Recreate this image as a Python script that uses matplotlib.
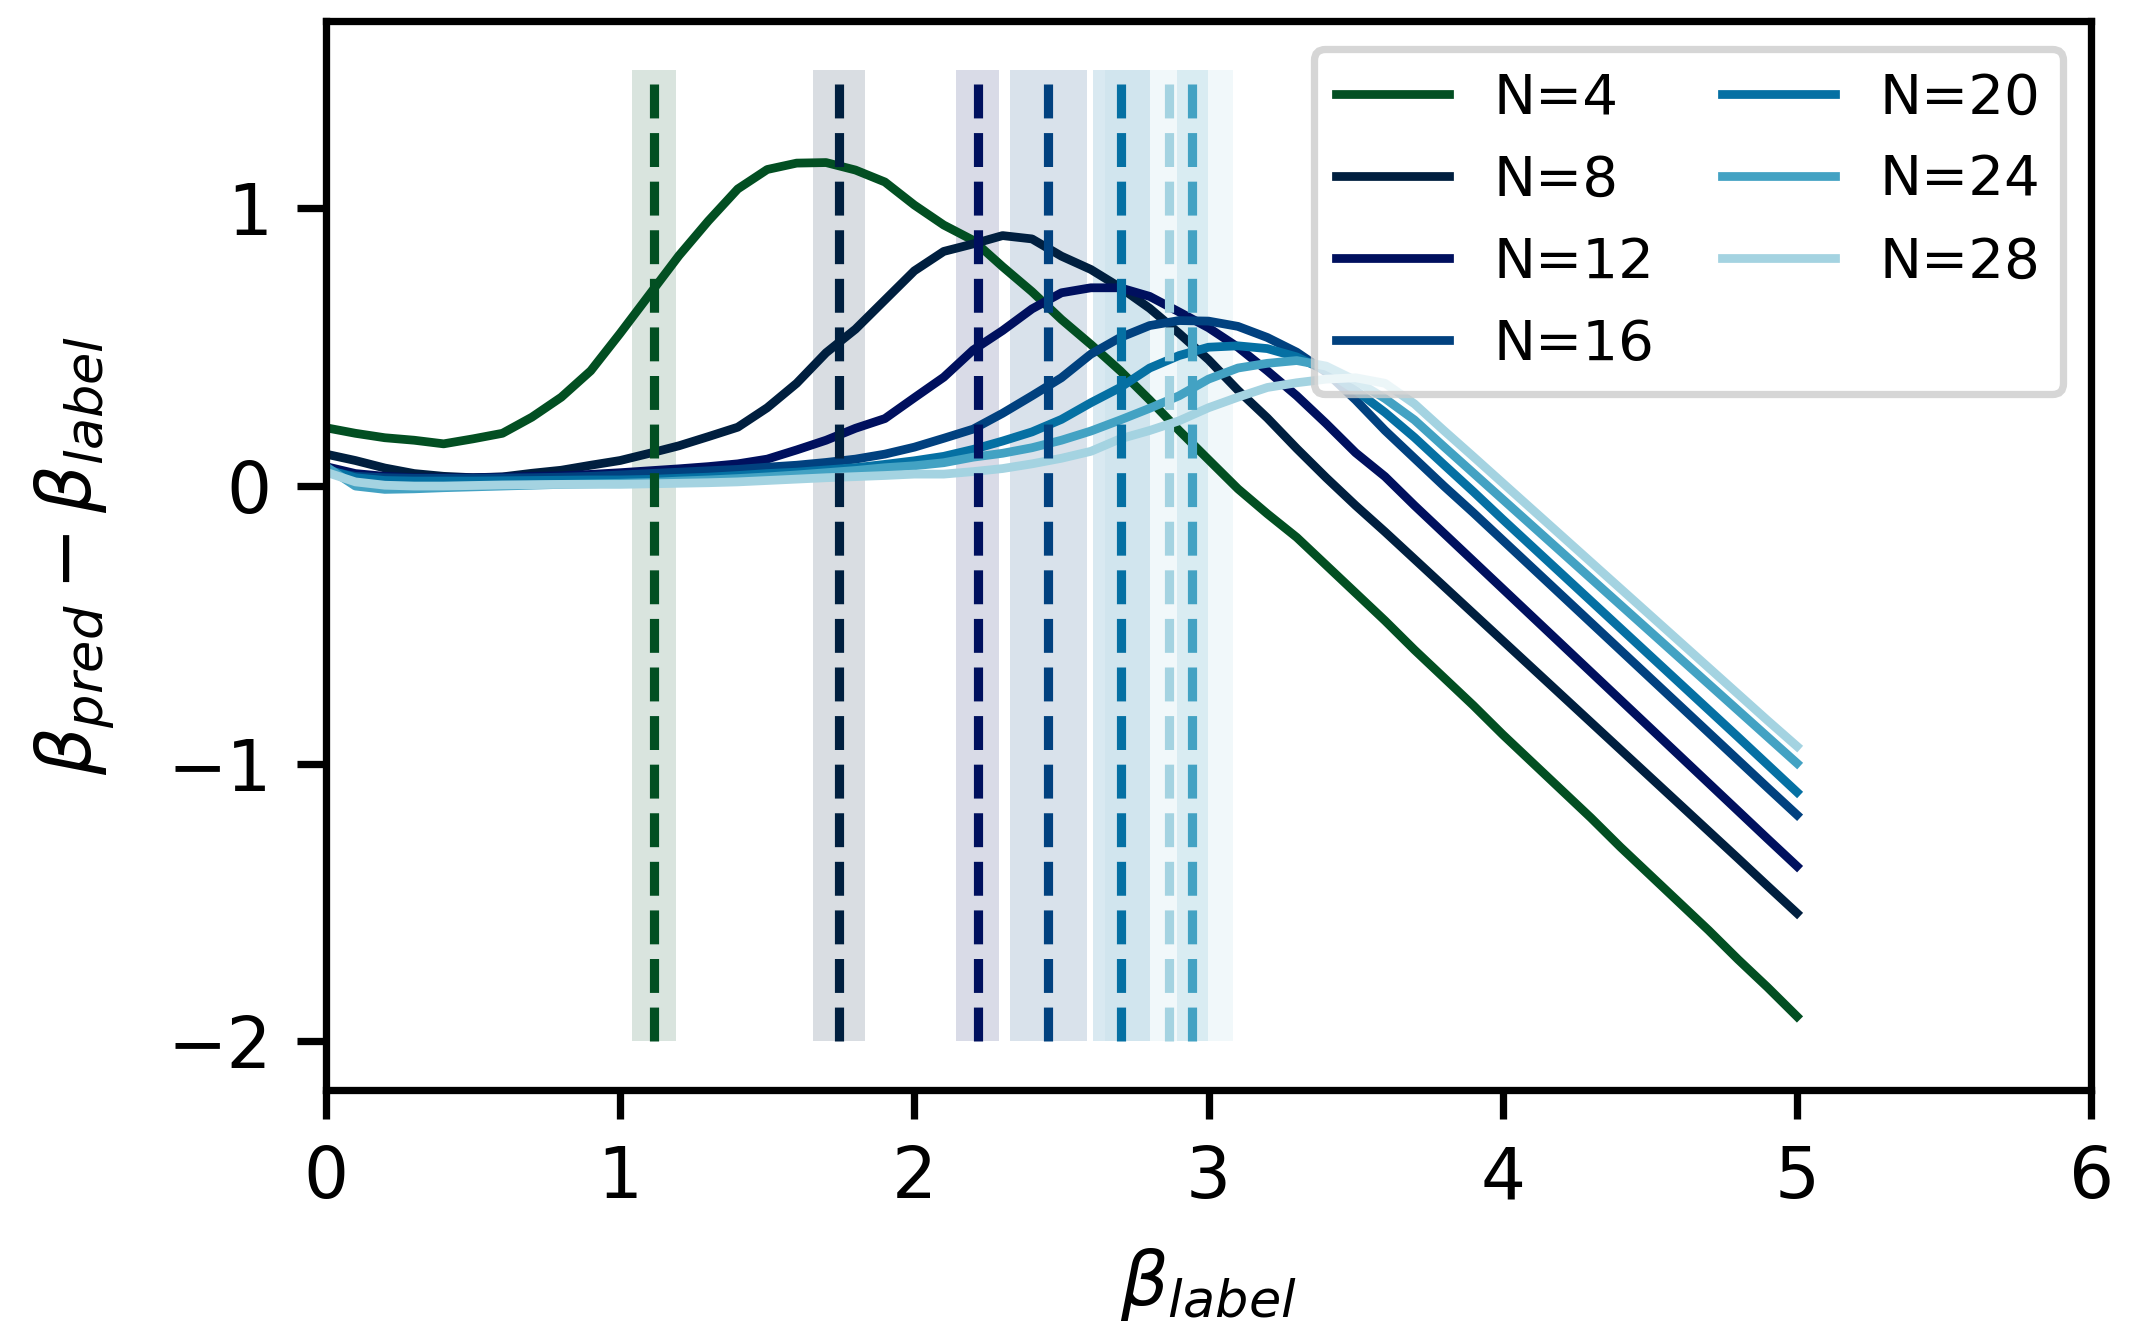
# beta_pred - beta_label against beta_label for several system sizes
import numpy as np
import matplotlib
matplotlib.use("Agg")
import matplotlib.pyplot as plt

# beta_label grid shared by all curves
beta_label = np.linspace(0, 5, 51)

# Curves (beta_pred - beta_label)
diff_n4 = [0.21, 0.19, 0.174, 0.165, 0.152, 0.17, 0.19, 0.248, 0.32, 0.415,
           0.55, 0.69, 0.83, 0.955, 1.07, 1.14, 1.163, 1.165, 1.138, 1.095,
           1.012, 0.94, 0.885, 0.79, 0.70, 0.60, 0.51, 0.415, 0.31, 0.20,
           0.095, -0.01, -0.10, -0.185, -0.285, -0.385, -0.485, -0.59, -0.69, -0.79,
           -0.895, -0.995, -1.095, -1.195, -1.30, -1.40, -1.50, -1.60, -1.705, -1.805,
           -1.91]
diff_n8 = [0.115, 0.092, 0.065, 0.045, 0.035, 0.03, 0.033, 0.046, 0.057, 0.075,
           0.092, 0.118, 0.145, 0.178, 0.212, 0.282, 0.37, 0.48, 0.565, 0.67,
           0.775, 0.845, 0.872, 0.902, 0.89, 0.828, 0.78, 0.715, 0.64, 0.55,
           0.455, 0.345, 0.245, 0.135, 0.03, -0.07, -0.165, -0.263, -0.361, -0.459,
           -0.557, -0.655, -0.753, -0.851, -0.949, -1.047, -1.145, -1.243, -1.341, -1.44,
           -1.538]
diff_n12 = [0.07, 0.045, 0.035, 0.03, 0.03, 0.03, 0.032, 0.035, 0.037, 0.042,
            0.048, 0.055, 0.062, 0.07, 0.08, 0.097, 0.13, 0.165, 0.208, 0.243,
            0.318, 0.392, 0.49, 0.56, 0.638, 0.696, 0.714, 0.714, 0.683, 0.627,
            0.57, 0.50, 0.415, 0.325, 0.225, 0.12, 0.034, -0.07, -0.17, -0.27,
            -0.37, -0.47, -0.57, -0.67, -0.77, -0.87, -0.97, -1.07, -1.17, -1.27,
            -1.369]
diff_n16 = [0.055, 0.035, 0.03, 0.028, 0.028, 0.028, 0.029, 0.03, 0.032, 0.035,
            0.04, 0.045, 0.05, 0.055, 0.06, 0.068, 0.075, 0.085, 0.097, 0.115,
            0.14, 0.172, 0.205, 0.262, 0.325, 0.39, 0.475, 0.535, 0.578, 0.596,
            0.594, 0.575, 0.535, 0.482, 0.41, 0.31, 0.20, 0.10, 0.0, -0.096,
            -0.195, -0.294, -0.393, -0.492, -0.591, -0.69, -0.789, -0.888, -0.987, -1.086,
            -1.184]
diff_n20 = [0.06, 0.03, 0.02, 0.018, 0.018, 0.018, 0.019, 0.02, 0.021, 0.022,
            0.022, 0.024, 0.028, 0.032, 0.038, 0.045, 0.05, 0.058, 0.066, 0.078,
            0.091, 0.107, 0.132, 0.162, 0.195, 0.24, 0.30, 0.355, 0.425, 0.47,
            0.50, 0.505, 0.495, 0.465, 0.415, 0.345, 0.265, 0.175, 0.077, -0.02,
            -0.12, -0.218, -0.316, -0.414, -0.512, -0.61, -0.708, -0.806, -0.904, -1.003,
            -1.102]
diff_n24 = [0.07, 0.0, -0.012, -0.01, -0.006, -0.003, 0.0, 0.003, 0.006, 0.008,
            0.01, 0.013, 0.018, 0.022, 0.027, 0.033, 0.04, 0.048, 0.056, 0.066,
            0.073, 0.084, 0.104, 0.118, 0.138, 0.165, 0.198, 0.238, 0.28, 0.325,
            0.385, 0.425, 0.442, 0.452, 0.432, 0.38, 0.315, 0.238, 0.142, 0.047,
            -0.048, -0.143, -0.238, -0.333, -0.428, -0.523, -0.618, -0.713, -0.808, -0.903,
            -0.998]
diff_n28 = [0.05, 0.015, 0.003, 0.0, 0.0, 0.002, 0.004, 0.005, 0.006, 0.006,
            0.006, 0.008, 0.01, 0.012, 0.015, 0.02, 0.025, 0.03, 0.034, 0.038,
            0.043, 0.043, 0.052, 0.063, 0.08, 0.10, 0.125, 0.17, 0.20, 0.235,
            0.282, 0.32, 0.355, 0.372, 0.385, 0.39, 0.37, 0.296, 0.20, 0.106,
            0.011, -0.084, -0.179, -0.274, -0.369, -0.464, -0.559, -0.654, -0.749, -0.844,
            -0.937]

labels = ["N=4", "N=8", "N=12", "N=16", "N=20", "N=24", "N=28"]
curves = [diff_n4, diff_n8, diff_n12, diff_n16, diff_n20, diff_n24, diff_n28]
colors = ['#024f22', '#001f3f', '#00105e', '#01417f', '#0570a3', '#43a2c3', '#a4d3e1']

# critical beta estimate (dashed line) and its spread (shaded band)
beta_crit = [1.115, 1.744, 2.215, 2.456, 2.704, 2.945, 2.865]
beta_crit_err = [0.074, 0.089, 0.073, 0.13, 0.098, 0.053, 0.217]

fig, ax = plt.subplots(figsize=(2150 / 300, 1343 / 300), dpi=300)
fig.subplots_adjust(left=0.1516, right=0.9726, bottom=0.1884, top=0.9844)

for i in range(len(labels)):
    ax.plot(beta_label, curves[i], color=colors[i], lw=2.1, label=labels[i])

for i in range(len(labels)):
    ax.fill_betweenx([-2, 1.5], beta_crit[i] - beta_crit_err[i],
                     beta_crit[i] + beta_crit_err[i], color=colors[i],
                     alpha=0.15, lw=0)
    ax.vlines(beta_crit[i], -2, 1.5, color=colors[i], lw=2.2, linestyles='--')

ax.set_xlim(0, 6)
ax.set_xticks([0, 1, 2, 3, 4, 5, 6])
ax.set_yticks([-2, -1, 0, 1])

for sp in ax.spines.values():
    sp.set_linewidth(1.75)
ax.tick_params(direction='out', length=7, width=1.75, labelsize=17, pad=6)

ax.set_xlabel(r'$\beta_{label}$', fontsize=18, labelpad=8)
ax.set_ylabel(r'$\beta_{pred}-\beta_{label}$', fontsize=18, labelpad=12)

leg = ax.legend(loc='upper right', ncol=2, fontsize=13.5, labelspacing=0.5,
                columnspacing=1.2)
leg.get_frame().set_linewidth(1.75)
leg.get_frame().set_edgecolor('0.8')

fig.savefig("out.png", dpi=300)
